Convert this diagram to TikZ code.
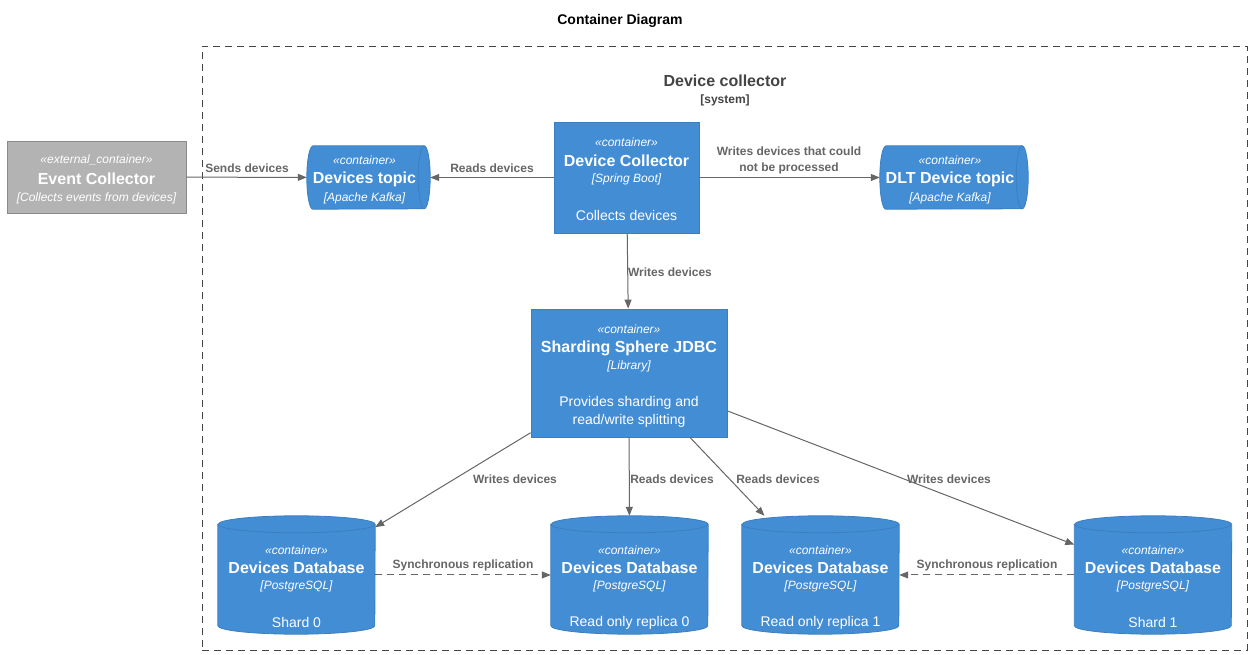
\documentclass[tikz,border=0pt]{standalone}
\usepackage{fontspec}
\setmainfont{Liberation Sans}
\usetikzlibrary{arrows.meta,calc}
\definecolor{cfill}{HTML}{438DD5}
\definecolor{cline}{HTML}{3C7FC0}
\definecolor{efill}{HTML}{B3B3B3}
\definecolor{eline}{HTML}{8A8A8A}
\definecolor{relc}{HTML}{666666}
\definecolor{bndc}{HTML}{444444}
\newcommand\fsz[2]{\fontsize{#1}{#2}\selectfont}
\newcommand\vcyl[3]{%
  \filldraw[fill=cfill,draw=cline,line width=0.8pt] ([yshift=-#3pt]#1.north west) -- ([yshift=#3pt]#1.south west)
    arc[start angle=180,end angle=360,x radius=#2pt,y radius=#3pt] -- ([yshift=-#3pt]#1.north east)
    arc[start angle=0,end angle=180,x radius=#2pt,y radius=#3pt] -- cycle;
  \draw[cline,line width=0.8pt] ([yshift=-#3pt]#1.north west) arc[start angle=180,end angle=360,x radius=#2pt,y radius=#3pt];}
\newcommand\hcyl[3]{%
  \filldraw[fill=cfill,draw=cline,line width=0.8pt] ([xshift=#2pt]#1.north west) -- ([xshift=-#2pt]#1.north east)
    arc[start angle=90,end angle=-90,x radius=#2pt,y radius=#3pt] -- ([xshift=#2pt]#1.south west)
    arc[start angle=270,end angle=90,x radius=#2pt,y radius=#3pt] -- cycle;
  \draw[cline,line width=0.8pt] ([xshift=-#2pt]#1.north east) arc[start angle=90,end angle=270,x radius=#2pt,y radius=#3pt];}
\tikzset{
  hole/.style={rectangle,inner sep=0pt,draw=none},
  cbox/.style={rectangle,inner sep=0pt,fill=cfill,draw=cline,line width=0.8pt},
  ebox/.style={rectangle,inner sep=0pt,fill=efill,draw=eline,line width=0.8pt},
  st/.style={text=white,font=\fsz{12}{14}\itshape,inner sep=0pt},
  nm/.style={text=white,font=\fsz{16}{19}\bfseries,inner sep=0pt},
  dsc/.style={text=white,font=\fsz{14}{18},inner sep=0pt,align=center},
  rl/.style={draw=relc,line width=1pt,-{Triangle[length=9pt,width=7pt]}},
  rld/.style={rl,dash pattern=on 7pt off 5pt},
  rlab/.style={text=relc,font=\fsz{12}{16}\bfseries,inner sep=0pt,align=center},
}
\begin{document}
\begin{tikzpicture}[x=1pt,y=1pt]
\useasboundingbox (0,0) rectangle (1252,655);
\fill[white] (0,0) rectangle (1252,655);
% title
\node[font=\fsz{14}{16}\bfseries,inner sep=0pt] (title) at (620,634) {Container Diagram};
% boundary
\node[rectangle,draw=bndc,line width=0.9pt,dash pattern=on 7pt off 5pt,minimum width=1045pt,minimum height=604pt,inner sep=0pt] (sys) at (724.5,307) {};
\node[text=bndc,font=\fsz{16}{19}\bfseries,inner sep=0pt] (systitle) at (725,574) {Device collector};
\node[text=bndc,font=\fsz{12}{14}\bfseries,inner sep=0pt] (systype) at (725,555) {[system]};
% nodes
\node[ebox,minimum width=179pt,minimum height=72pt] (ext) at (96.5,478) {};
\node[hole,minimum width=123pt,minimum height=63pt] (topic) at (368.5,477.5) {};
\node[cbox,minimum width=145pt,minimum height=111pt] (dc) at (626.5,477.5) {};
\node[hole,minimum width=148pt,minimum height=63pt] (dlt) at (954,477.5) {};
\node[cbox,minimum width=196pt,minimum height=128pt] (jdbc) at (629,282) {};
\node[hole,minimum width=157pt,minimum height=118pt] (sh0) at (296.5,80) {};
\node[hole,minimum width=157pt,minimum height=118pt] (rp0) at (629.5,80) {};
\node[hole,minimum width=157pt,minimum height=118pt] (rp1) at (820.5,80) {};
\node[hole,minimum width=157pt,minimum height=118pt] (sh1) at (1153,80) {};
\hcyl{topic}{6}{31.5}
\hcyl{dlt}{6}{31.5}
\vcyl{sh0}{78.5}{8.5}
\vcyl{rp0}{78.5}{8.5}
\vcyl{rp1}{78.5}{8.5}
\vcyl{sh1}{78.5}{8.5}
% texts
\node[st] (ext1) at ([yshift=-19pt]ext.north) {«external\_container»};
\node[nm] (ext2) at ([yshift=-38pt]ext.north) {Event Collector};
\node[st] (ext3) at ([yshift=-57.5pt]ext.north) {[Collects events from devices]};
\foreach \n/\t in {topic/Devices topic,dlt/DLT Device topic}{
  \node[st] at ([xshift=-4pt,yshift=-14pt]\n.north) {«container»};
  \node[nm] at ([xshift=-4pt,yshift=-33.5pt]\n.north) {\t};
  \node[st] at ([xshift=-4pt,yshift=-53pt]\n.north) {[Apache Kafka]};
}
\node[st] (dc1) at ([yshift=-21pt]dc.north) {«container»};
\node[nm] (dc2) at ([yshift=-39pt]dc.north) {Device Collector};
\node[st] (dc3) at ([yshift=-58pt]dc.north) {[Spring Boot]};
\node[dsc] (dc4) at ([yshift=-94pt]dc.north) {Collects devices};
\node[st] (jd1) at ([yshift=-21pt]jdbc.north) {«container»};
\node[nm] (jd2) at ([yshift=-39.5pt]jdbc.north) {Sharding Sphere JDBC};
\node[st] (jd3) at ([yshift=-58pt]jdbc.north) {[Library]};
\node[dsc] (jd4) at ([yshift=-103pt]jdbc.north) {Provides sharding and\\read/write splitting};
\foreach \n/\t in {sh0/Shard 0,rp0/Read only replica 0,rp1/Read only replica 1,sh1/Shard 1}{
  \node[st] at ([yshift=-34pt]\n.north) {«container»};
  \node[nm] at ([yshift=-52pt]\n.north) {Devices Database};
  \node[st] at ([yshift=-71pt]\n.north) {[PostgreSQL]};
  \node[dsc] at ([yshift=-107pt]\n.north) {\t};
}
% relations
\draw[rl] (ext) -- (topic);
\draw[rl] (dc) -- (topic);
\draw[rl] (dc) -- (dlt);
\draw[rl] (dc) -- (jdbc);
\draw[rl] (jdbc) -- (sh0);
\draw[rl] (jdbc) -- (rp0);
\draw[rl] (jdbc) -- (rp1);
\draw[rl] (jdbc) -- (sh1);
\draw[rld] (sh0) -- (rp0);
\draw[rld] (sh1) -- (rp1);
% relation labels
\node[rlab] (l1) at (247,486.5) {Sends devices};
\node[rlab] (l2) at (492,486.5) {Reads devices};
\node[rlab] (l3) at (789,494.5) {Writes devices that could\\not be processed};
\node[rlab] (l4) at (670,382.5) {Writes devices};
\node[rlab] (l5) at (515,175.5) {Writes devices};
\node[rlab] (l6) at (672,175.5) {Reads devices};
\node[rlab] (l7) at (778,175.5) {Reads devices};
\node[rlab] (l8) at (949,175.5) {Writes devices};
\node[rlab] (l9) at (463,89.5) {Synchronous replication};
\node[rlab] (l10) at (987,89.5) {Synchronous replication};
\end{tikzpicture}
\end{document}
